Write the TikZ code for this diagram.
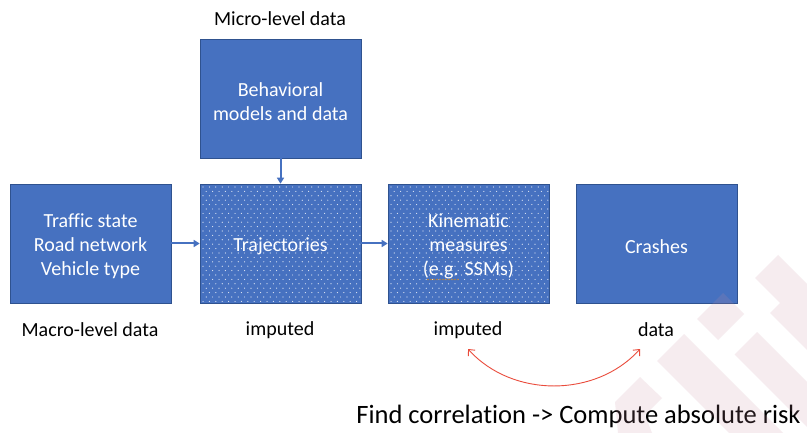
\documentclass[tikz,border=0pt]{standalone}
\usepackage{fontspec}
\setmainfont{Carlito}[Ligatures=NoCommon]
\usetikzlibrary{arrows.meta,calc}
\definecolor{boxblue}{RGB}{70,113,192}
\definecolor{boxedge}{RGB}{47,82,143}
\definecolor{arcred}{RGB}{234,76,60}
\definecolor{markpink}{RGB}{203,139,159}
\definecolor{spellmark}{RGB}{185,130,55}
% taller first line pushes block text slightly down
\newcommand\toppad{\rule{0pt}{20pt}}
\begin{document}
\begin{tikzpicture}[x=1pt,y=-1pt,
  blockbox/.style={draw=boxedge,line width=0.6pt,fill=boxblue,
    minimum width=161pt,minimum height=119pt,inner sep=0pt,
    text=white,align=center,font=\fontsize{20}{24}\selectfont},
  dotted fill/.style={path picture={
    \foreach \r [evaluate=\r as \off using {mod(\r,2)*3.2}] in {0,...,26}{
      \foreach \c in {0,...,24}{
        \fill[white,opacity=.85]
          ($(path picture bounding box.north west)+(3+\c*6.4+\off,3+\r*4.4)$)
          circle (0.6);
      }
    }}},
  caption/.style={font=\fontsize{20}{24}\selectfont,text=black,inner sep=0pt},
  flow/.style={draw=boxblue,line width=2pt,-{Triangle[length=6pt,width=7pt]}},
  link/.style={draw=arcred,line width=0.9pt,
    {Straight Barb[length=5pt,width=9pt]}-{Straight Barb[length=5pt,width=9pt]}}
]
\useasboundingbox (0,0) rectangle (807,433);
\fill[white] (0,0) rectangle (807,433);

% blocks
\node[blockbox] (behav) at (280.5,98.5) {\toppad Behavioral\\models and data};
\node[blockbox] (macro) at (90.5,243.5) {\toppad Traffic state\\Road network\\Vehicle type};
\node[blockbox,dotted fill] (traj) at (280.5,243.5) {\toppad Trajectories};
\node[blockbox,dotted fill] (kin) at (468.5,243.5) {\toppad Kinematic\\measures\\(e.g. SSMs)};
\node[blockbox] (crash) at (656.5,243.5) {\toppad Crashes};

% spelling mark under "e.g."
\foreach \k in {0,...,10}
  \fill[spellmark] (428+\k*3,279.5) circle (0.9);

% flow arrows
\draw[flow] (macro.east) -- (traj.west);
\draw[flow] (traj.east) -- (kin.west);
\draw[flow] (behav.south) -- (traj.north);

% captions
\node[caption] (microlbl) at (280,19) {Micro-level data};
\node[caption] (macrolbl) at (90,330) {Macro-level data};
\node[caption] (implblA) at (280,330) {imputed};
\node[caption] (implblB) at (468,330) {imputed};
\node[caption] (datalbl) at (656,330) {data};

% correlation arc
\coordinate (arcA) at (468,349);
\coordinate (arcB) at (640,349);
\draw[link] (arcA) .. controls (512,398) and (596,398) .. (arcB);

\node[font=\fontsize{26.5}{30}\selectfont,inner sep=0pt] (riskline) at (578.5,416.5)
  {Find correlation -> Compute absolute risk};

% faint logo mark in the corner
\begin{scope}
  \clip (0,0) rectangle (807,433);
  \fill[markpink,opacity=.16]
    (778,255) -- (807,284) -- (807,350) -- (770,313) -- (780,303) -- (755,278) -- cycle
    (723,293) -- (744,314) -- (718,340) -- (697,319) -- cycle
    (657,361) -- (684,334) -- (830,480) -- (803,507) -- cycle
    (734.5,354.5) -- (757,332) -- (912,487) -- (890,510) -- cycle
    (615,402) -- (640,377) -- (662,398) -- (645,415) -- (652,433) -- (618,433) -- cycle;
\end{scope}
\end{tikzpicture}
\end{document}
